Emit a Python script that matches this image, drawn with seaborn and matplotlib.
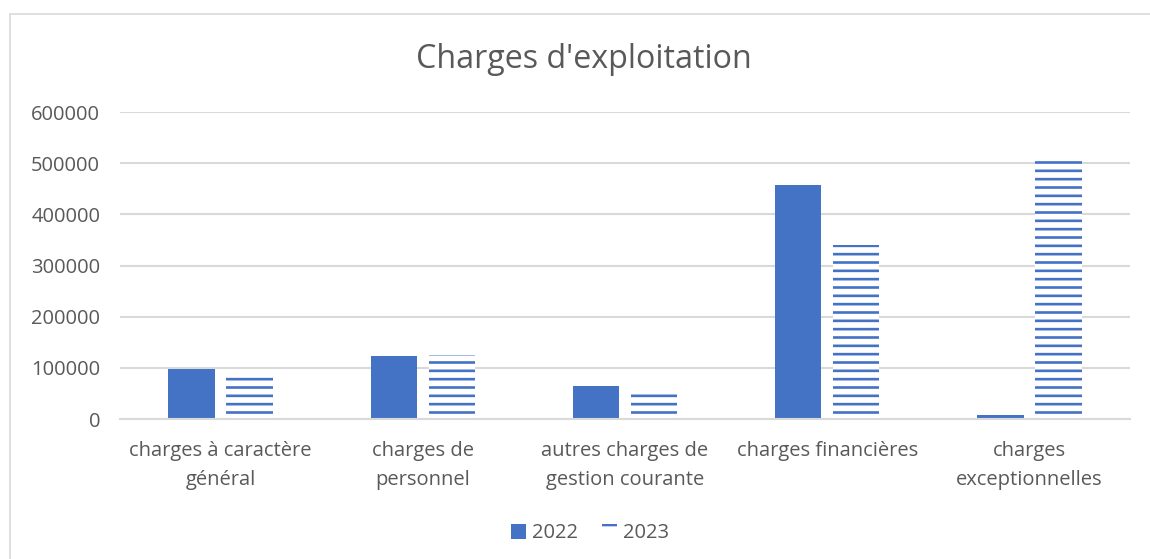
import matplotlib
matplotlib.use("Agg")
import matplotlib.pyplot as plt
import matplotlib.patches as mpatches
import pandas as pd
import seaborn as sns

# Chart data
categories = [
    "charges à caractère\ngénéral",
    "charges de\npersonnel",
    "autres charges de\ngestion courante",
    "charges financières",
    "charges\nexceptionnelles",
]
years = ["2022", "2023"]
values_2022 = [97000, 123000, 64000, 457000, 8000]
values_2023 = [88000, 125000, 59000, 340000, 506000]
y_ticks = [0, 100000, 200000, 300000, 400000, 500000, 600000]

BLUE = "#4472C4"
TEXT = "#595959"
GRID = "#d9d9d9"


def main():
    sns.set_theme(style="white")
    plt.rcParams["font.family"] = ["Open Sans", "DejaVu Sans"]
    plt.rcParams["hatch.linewidth"] = 1.9

    df = pd.DataFrame({
        "categorie": categories * 2,
        "annee": [years[0]] * len(categories) + [years[1]] * len(categories),
        "valeur": values_2022 + values_2023,
    })

    fig = plt.figure(figsize=(11.5, 5.59), dpi=100)
    ax = fig.add_axes([0.104, 0.2504, 0.879, 0.5492])

    sns.barplot(
        data=df, x="categorie", y="valeur", hue="annee",
        palette=[BLUE, BLUE], saturation=1, width=0.574, gap=0.2,
        order=categories, hue_order=years, ax=ax, legend=False,
        linewidth=0,
    )

    # the 2023 series: white fill with horizontal blue stripes
    n = len(categories)
    for patch in ax.patches[n:2 * n]:
        patch.set_facecolor("white")
        patch.set_edgecolor(BLUE)
        patch.set_linewidth(0)
        patch.set_hatch("--")

    ax.set_ylim(0, 600000)
    ax.set_xlim(-0.5, n - 0.5)
    ax.set_yticks(y_ticks)
    ax.set_yticklabels([str(v) for v in y_ticks], color=TEXT, fontsize=14.5)
    ax.set_xticks(range(n))
    ax.set_xticklabels(categories, color=TEXT, fontsize=14.5, linespacing=1.6)
    ax.tick_params(axis="both", length=0)
    ax.tick_params(axis="y", pad=14)
    ax.tick_params(axis="x", pad=16)
    ax.set_xlabel("")
    ax.set_ylabel("")
    ax.yaxis.grid(True, color=GRID, linewidth=1.5)
    ax.set_axisbelow(True)
    for side in ["top", "right", "left"]:
        ax.spines[side].set_visible(False)
    ax.spines["bottom"].set_color(GRID)
    ax.spines["bottom"].set_linewidth(1.5)

    fig.text(0.508, 0.893, "Charges d'exploitation", ha="center", va="center",
             fontsize=23.2, color=TEXT)

    # legend
    h1 = mpatches.Patch(facecolor=BLUE, edgecolor=BLUE, linewidth=0, label="2022")
    h2 = mpatches.Patch(facecolor="white", edgecolor=BLUE, linewidth=0,
                        hatch="-", label="2023")
    fig.legend(handles=[h1, h2], loc="center", bbox_to_anchor=(0.513, 0.046),
               ncol=2, frameon=False, fontsize=14.5, handlelength=0.75,
               handleheight=0.75, handletextpad=0.3, columnspacing=1.2,
               labelcolor=TEXT)

    # outer chart border
    border = mpatches.Rectangle((10 / 1150, -0.1), 1.2, 1 - 14 / 559 + 0.1,
                                transform=fig.transFigure, fill=False,
                                edgecolor=GRID, linewidth=1.2)
    fig.patches.append(border)

    fig.savefig("out.png", dpi=100)


if __name__ == "__main__":
    main()
